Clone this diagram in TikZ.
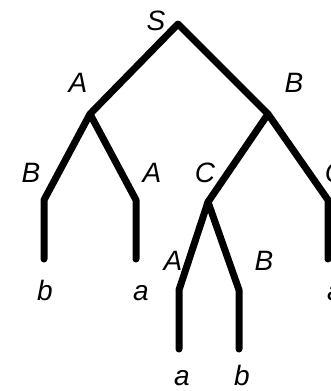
\documentclass[tikz,border=0pt]{standalone}
\usepackage{fontspec}
\setmainfont{Liberation Sans}
\tikzset{branch/.style={line width=7pt, line join=round, line cap=round},
  lbl/.style={anchor=base, inner sep=0pt, font=\fontsize{28}{32}\selectfont\itshape}}

\begin{document}
\begin{tikzpicture}[x=1pt, y=-1pt]
    \useasboundingbox (0,0) rectangle (331,391);
    % tree vertices
    \coordinate (S) at (178,24);
    \coordinate (A) at (90,114);
    \coordinate (B) at (268,114);
    \coordinate (C) at (208,202);
    \coordinate (bb) at (44,200);  \coordinate (be) at (44,259);
    \coordinate (ab) at (136,200); \coordinate (ae) at (136,259);
    \coordinate (cb) at (328,200); \coordinate (ce) at (328,259);
    \coordinate (lb) at (179,290); \coordinate (le) at (179,349);
    \coordinate (rb) at (239,290); \coordinate (re) at (239,349);
    \draw[branch] (A) -- (S) -- (B);
    \draw[branch] (be) -- (bb) -- (A) -- (ab) -- (ae);
    \draw[branch] (C) -- (B) -- (cb) -- (ce);
    \draw[branch] (le) -- (lb) -- (C) -- (rb) -- (re);
    % labels
    \node[lbl] (lS) at (156,30) {S};
    \node[lbl] (lA) at (78,92) {A};
    \node[lbl] (lB) at (294,92) {B};
    \node[lbl] (lAB) at (31,182) {B};
    \node[lbl] (lAA) at (152,182) {A};
    \node[lbl] (lBC) at (205,182) {C};
    \node[lbl] (lBC2) at (335,182) {C};
    \node[lbl] (lCA) at (173,270) {A};
    \node[lbl] (lCB) at (264,270) {B};
    \node[lbl] (tb) at (45,300) {b};
    \node[lbl] (ta) at (141,300) {a};
    \node[lbl] (ta2) at (335,300) {a};
    \node[lbl] (tca) at (182,385) {a};
    \node[lbl] (tcb) at (242,385) {b};
\end{tikzpicture}
\end{document}
